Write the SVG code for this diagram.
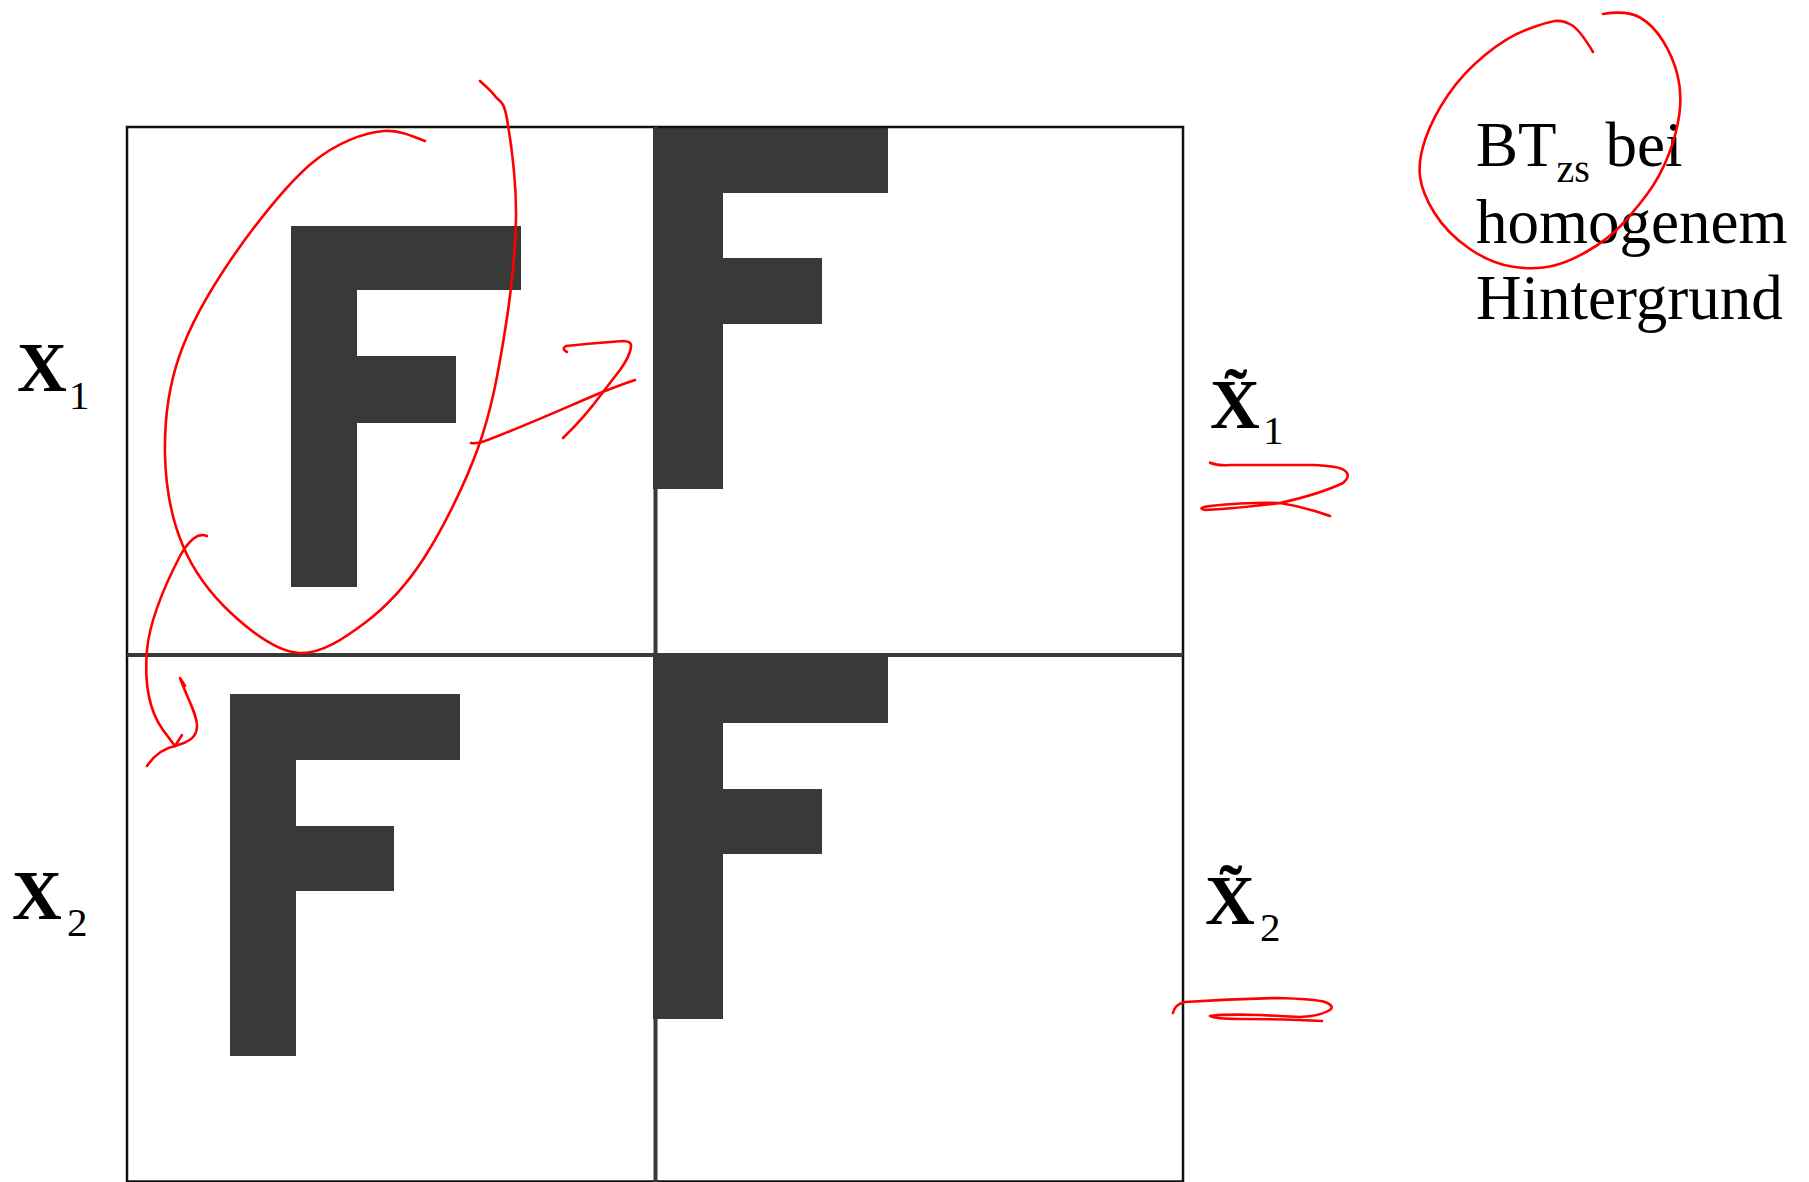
<svg xmlns="http://www.w3.org/2000/svg" width="1809" height="1182" viewBox="0 0 1809 1182">
<style>
.f{fill:#393939}
.mid{stroke:#393939;stroke-width:4;fill:none}
.outer{stroke:#111;stroke-width:2.5;fill:none}
.lbl{font-family:"Liberation Serif","Times New Roman",serif;font-weight:bold;font-size:69px;fill:#000}
.sub{font-family:"Liberation Serif","Times New Roman",serif;font-weight:normal;font-size:41px;fill:#000}
.note{font-family:"Liberation Serif","Times New Roman",serif;font-size:63px;fill:#000}
.red{stroke:#ff0000;stroke-width:2.6;fill:none;stroke-linecap:round;stroke-linejoin:round}
</style>
<rect width="1809" height="1182" fill="#fff"/>
<g id="letters">
  <g id="F11"><rect class="f" x="291" y="226" width="66" height="361"/><rect class="f" x="291" y="226" width="230" height="64"/><rect class="f" x="291" y="356" width="165" height="67"/></g>
  <g id="F12"><rect class="f" x="653" y="127" width="70" height="362"/><rect class="f" x="653" y="127" width="235" height="66"/><rect class="f" x="653" y="258" width="169" height="66"/></g>
  <g id="F21"><rect class="f" x="230" y="694" width="66" height="362"/><rect class="f" x="230" y="694" width="230" height="66"/><rect class="f" x="230" y="826" width="164" height="65"/></g>
  <g id="F22"><rect class="f" x="653" y="654" width="70" height="365"/><rect class="f" x="653" y="654" width="235" height="69"/><rect class="f" x="653" y="789" width="169" height="65"/></g>
</g>
<g id="grid">
  <rect class="outer" x="127" y="127" width="1056" height="1054.5"/>
  <line class="mid" x1="127" y1="655" x2="1183" y2="655"/>
  <line class="mid" x1="655.5" y1="127" x2="655.5" y2="1182"/>
</g>
<g id="labels">
  <g id="X1"><text class="lbl" x="17" y="391">X</text><text class="sub" x="69" y="408.5">1</text></g>
  <g id="X2"><text class="lbl" x="12" y="918.5">X</text><text class="sub" x="67" y="936">2</text></g>
  <g id="Xt1"><text class="lbl" x="1210" y="427.5">X̃</text><text class="sub" x="1263" y="443.5">1</text></g>
  <g id="Xt2"><text class="lbl" x="1205" y="924">X̃</text><text class="sub" x="1260" y="941">2</text></g>
  <g id="note"><text class="note" x="1476" y="166">BT<tspan font-size="40" dy="16">zs</tspan><tspan dy="-16"> bei</tspan></text><text class="note" x="1476" y="243">homogenem</text><text class="note" x="1476" y="319">Hintergrund</text></g>
</g>
<g id="annotations">
  <path class="red" d="M425 141 C410 135 398 130 384 131 C365.2 132.5 337.3 141.8 312 163 C286.7 184.2 254.2 225.7 232 258 C209.8 290.3 190.2 324.2 179 357 C167.8 389.8 164.3 423.5 165 455 C165.7 486.5 171.8 519.5 183 546 C194.2 572.5 212.7 596.2 232 614 C251.3 631.8 276.7 651.7 299 653 C321.3 654.3 345.2 637.8 366 622 C386.8 606.2 405.3 587 424 558 C442.7 529 464.7 484.8 478 448 C491.3 411.2 497.7 375.3 504 337 C510.3 298.7 515.5 254.3 516 218 C516.5 181.7 510.5 139.3 507 119 C503.5 98.7 499.5 102.3 495 96 C490.5 89.7 482.5 83.5 480 81"/>
  <path class="red" d="M471 443 Q477 444 485 441 C520 428 560 410 600 393 Q620 385 635 380"/>
  <path class="red" d="M567 352 Q561 349 566 346 Q595 343 623 341 Q632 341 631 347 Q630 356 620 370 L603 392 Q585 417 563 438"/>
  <path class="red" d="M207 536 Q200 533 193 539 Q186 545 180 556 C165 585 150 618 147 650 C144 685 150 712 163 730 L175 746"/>
  <path class="red" d="M182 735 L175 746"/>
  <path class="red" d="M175 746 C188 742 197 738 197 726 C197 714 188 700 180 678 L185 686"/>
  <path class="red" d="M175 746 C165 748 155 754 147 766"/>
  <path class="red" d="M1210 462.7 Q1218 466 1230 465 L1313 465 Q1338 466 1344 470 Q1352 475 1343 483 Q1320 494 1280 503 Q1240 508 1205 510 Q1196 508 1210 506 Q1250 502 1280 503 Q1305 507 1330 516"/>
  <path class="red" d="M1173 1013 Q1175 1004 1185 1002 Q1230 999 1277 998 Q1315 999 1325 1002 Q1335 1006 1330 1010 Q1320 1016 1300 1017 Q1280 1016 1260 1015 Q1225 1014 1210 1016 Q1215 1019 1240 1019 Q1290 1019 1322 1021"/>
  <path class="red" d="M1593 52 Q1580 30 1571.5 25 Q1563 20 1555 21 Q1547 22 1527 29.5 Q1507 37 1485 55 Q1463 73 1448 95 Q1433 117 1425.5 138.5 Q1418 160 1420 176.5 Q1422 193 1434.5 213 Q1447 233 1468.5 248 Q1490 263 1511.5 266.5 Q1533 270 1550 266.5 Q1567 263 1587 251.5 Q1607 240 1620 226.5 Q1633 213 1646.5 195 Q1660 177 1668.5 155 Q1677 133 1679.5 113 Q1682 93 1677.5 75 Q1673 57 1663 41 Q1653 25 1640 17.5 Q1627 10 1603 14"/>
</g>
</svg>
